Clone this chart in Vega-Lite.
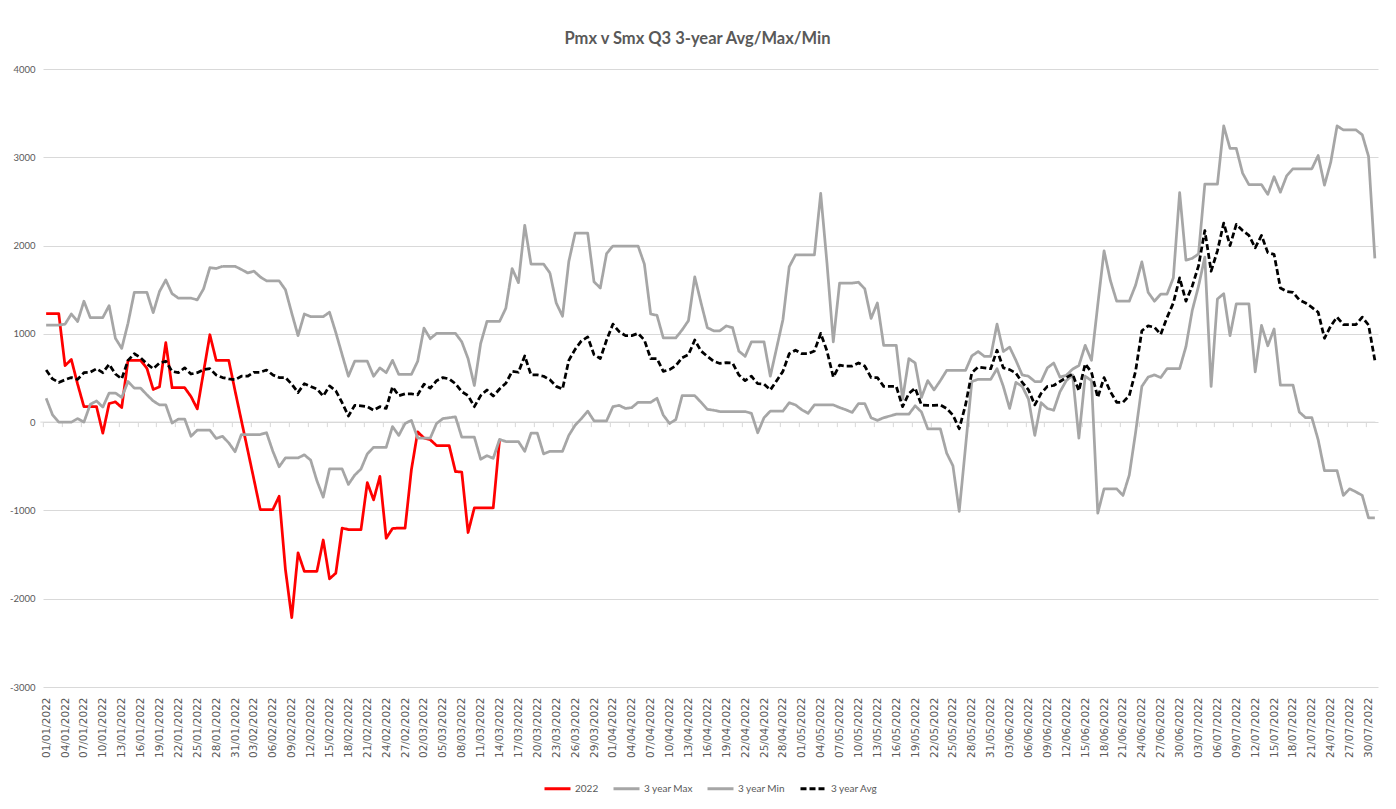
{
"$schema":"https://vega.github.io/schema/vega-lite/v6.json",
"width":1335,"height":618,
"autosize":{"type":"none"},
"padding":{"left":43,"top":69,"right":18,"bottom":122},
"background":"white",
"title":{"text":"Pmx v Smx Q3 3-year Avg/Max/Min","font":"Lato, sans-serif","fontSize":16.5,"fontWeight":"bold","color":"#595959","anchor":"middle","offset":17,"dx":-13},
"data":{"values":[
{"d":"01/01/2022","2022":1230,"3 year Max":1100,"3 year Min":270,"3 year Avg":590},
{"d":"02/01/2022","2022":1230,"3 year Max":1100,"3 year Min":85,"3 year Avg":490},
{"d":"03/01/2022","2022":1230,"3 year Max":1100,"3 year Min":0,"3 year Avg":450},
{"d":"04/01/2022","2022":640,"3 year Max":1110,"3 year Min":0,"3 year Avg":480},
{"d":"05/01/2022","2022":710,"3 year Max":1225,"3 year Min":0,"3 year Avg":505},
{"d":"06/01/2022","2022":430,"3 year Max":1140,"3 year Min":40,"3 year Avg":485},
{"d":"07/01/2022","2022":175,"3 year Max":1370,"3 year Min":0,"3 year Avg":560},
{"d":"08/01/2022","2022":175,"3 year Max":1185,"3 year Min":200,"3 year Avg":565},
{"d":"09/01/2022","2022":175,"3 year Max":1185,"3 year Min":240,"3 year Avg":605},
{"d":"10/01/2022","2022":-125,"3 year Max":1185,"3 year Min":170,"3 year Avg":560},
{"d":"11/01/2022","2022":210,"3 year Max":1320,"3 year Min":330,"3 year Avg":655},
{"d":"12/01/2022","2022":230,"3 year Max":950,"3 year Min":330,"3 year Avg":545},
{"d":"13/01/2022","2022":165,"3 year Max":835,"3 year Min":280,"3 year Avg":490},
{"d":"14/01/2022","2022":700,"3 year Max":1120,"3 year Min":460,"3 year Avg":700},
{"d":"15/01/2022","2022":700,"3 year Max":1470,"3 year Min":385,"3 year Avg":775},
{"d":"16/01/2022","2022":700,"3 year Max":1470,"3 year Min":385,"3 year Avg":730},
{"d":"17/01/2022","2022":610,"3 year Max":1470,"3 year Min":310,"3 year Avg":660},
{"d":"18/01/2022","2022":370,"3 year Max":1240,"3 year Min":240,"3 year Avg":605},
{"d":"19/01/2022","2022":400,"3 year Max":1480,"3 year Min":195,"3 year Avg":670},
{"d":"20/01/2022","2022":900,"3 year Max":1610,"3 year Min":195,"3 year Avg":690},
{"d":"21/01/2022","2022":390,"3 year Max":1455,"3 year Min":-10,"3 year Avg":575},
{"d":"22/01/2022","2022":390,"3 year Max":1405,"3 year Min":35,"3 year Avg":560},
{"d":"23/01/2022","2022":390,"3 year Max":1405,"3 year Min":35,"3 year Avg":615},
{"d":"24/01/2022","2022":290,"3 year Max":1405,"3 year Min":-160,"3 year Avg":545},
{"d":"25/01/2022","2022":150,"3 year Max":1385,"3 year Min":-90,"3 year Avg":560},
{"d":"26/01/2022","2022":570,"3 year Max":1510,"3 year Min":-90,"3 year Avg":595},
{"d":"27/01/2022","2022":990,"3 year Max":1750,"3 year Min":-90,"3 year Avg":605},
{"d":"28/01/2022","2022":700,"3 year Max":1740,"3 year Min":-185,"3 year Avg":535},
{"d":"29/01/2022","2022":700,"3 year Max":1765,"3 year Min":-160,"3 year Avg":505},
{"d":"30/01/2022","2022":700,"3 year Max":1765,"3 year Min":-235,"3 year Avg":490},
{"d":"31/01/2022","2022":355,"3 year Max":1765,"3 year Min":-335,"3 year Avg":480},
{"d":"01/02/2022","2022":20,"3 year Max":1730,"3 year Min":-140,"3 year Avg":520},
{"d":"02/02/2022","2022":-315,"3 year Max":1690,"3 year Min":-140,"3 year Avg":520},
{"d":"03/02/2022","2022":-650,"3 year Max":1710,"3 year Min":-140,"3 year Avg":565},
{"d":"04/02/2022","2022":-990,"3 year Max":1645,"3 year Min":-140,"3 year Avg":565},
{"d":"05/02/2022","2022":-990,"3 year Max":1600,"3 year Min":-120,"3 year Avg":590},
{"d":"06/02/2022","2022":-990,"3 year Max":1600,"3 year Min":-330,"3 year Avg":535},
{"d":"07/02/2022","2022":-840,"3 year Max":1600,"3 year Min":-505,"3 year Avg":505},
{"d":"08/02/2022","2022":-1670,"3 year Max":1500,"3 year Min":-405,"3 year Avg":505},
{"d":"09/02/2022","2022":-2215,"3 year Max":1235,"3 year Min":-405,"3 year Avg":430},
{"d":"10/02/2022","2022":-1480,"3 year Max":980,"3 year Min":-405,"3 year Avg":335},
{"d":"11/02/2022","2022":-1690,"3 year Max":1225,"3 year Min":-370,"3 year Avg":435},
{"d":"12/02/2022","2022":-1690,"3 year Max":1195,"3 year Min":-430,"3 year Avg":405},
{"d":"13/02/2022","2022":-1690,"3 year Max":1195,"3 year Min":-665,"3 year Avg":375},
{"d":"14/02/2022","2022":-1335,"3 year Max":1195,"3 year Min":-850,"3 year Avg":295},
{"d":"15/02/2022","2022":-1775,"3 year Max":1245,"3 year Min":-530,"3 year Avg":410},
{"d":"16/02/2022","2022":-1710,"3 year Max":1015,"3 year Min":-530,"3 year Avg":355},
{"d":"17/02/2022","2022":-1200,"3 year Max":765,"3 year Min":-530,"3 year Avg":220},
{"d":"18/02/2022","2022":-1217,"3 year Max":520,"3 year Min":-705,"3 year Avg":70},
{"d":"19/02/2022","2022":-1217,"3 year Max":690,"3 year Min":-600,"3 year Avg":190},
{"d":"20/02/2022","2022":-1217,"3 year Max":690,"3 year Min":-530,"3 year Avg":185},
{"d":"21/02/2022","2022":-685,"3 year Max":690,"3 year Min":-360,"3 year Avg":175},
{"d":"22/02/2022","2022":-880,"3 year Max":520,"3 year Min":-285,"3 year Avg":135},
{"d":"23/02/2022","2022":-615,"3 year Max":615,"3 year Min":-285,"3 year Avg":175},
{"d":"24/02/2022","2022":-1315,"3 year Max":560,"3 year Min":-285,"3 year Avg":155},
{"d":"25/02/2022","2022":-1205,"3 year Max":700,"3 year Min":-50,"3 year Avg":400},
{"d":"26/02/2022","2022":-1200,"3 year Max":540,"3 year Min":-150,"3 year Avg":300},
{"d":"27/02/2022","2022":-1200,"3 year Max":540,"3 year Min":-15,"3 year Avg":320},
{"d":"28/02/2022","2022":-540,"3 year Max":540,"3 year Min":20,"3 year Avg":320},
{"d":"01/03/2022","2022":-110,"3 year Max":690,"3 year Min":-180,"3 year Avg":310},
{"d":"02/03/2022","2022":-180,"3 year Max":1065,"3 year Min":-180,"3 year Avg":430},
{"d":"03/03/2022","2022":-200,"3 year Max":945,"3 year Min":-180,"3 year Avg":385},
{"d":"04/03/2022","2022":-265,"3 year Max":1005,"3 year Min":-15,"3 year Avg":470},
{"d":"05/03/2022","2022":-265,"3 year Max":1005,"3 year Min":40,"3 year Avg":505},
{"d":"06/03/2022","2022":-265,"3 year Max":1005,"3 year Min":50,"3 year Avg":490},
{"d":"07/03/2022","2022":-560,"3 year Max":1005,"3 year Min":60,"3 year Avg":435},
{"d":"08/03/2022","2022":-565,"3 year Max":910,"3 year Min":-170,"3 year Avg":345},
{"d":"09/03/2022","2022":-1250,"3 year Max":720,"3 year Min":-170,"3 year Avg":300},
{"d":"10/03/2022","2022":-970,"3 year Max":415,"3 year Min":-170,"3 year Avg":175},
{"d":"11/03/2022","2022":-970,"3 year Max":890,"3 year Min":-420,"3 year Avg":300},
{"d":"12/03/2022","2022":-970,"3 year Max":1140,"3 year Min":-380,"3 year Avg":365},
{"d":"13/03/2022","2022":-970,"3 year Max":1140,"3 year Min":-410,"3 year Avg":295},
{"d":"14/03/2022","2022":-200,"3 year Max":1140,"3 year Min":-195,"3 year Avg":375},
{"d":"15/03/2022","3 year Max":1290,"3 year Min":-220,"3 year Avg":440},
{"d":"16/03/2022","3 year Max":1740,"3 year Min":-220,"3 year Avg":575},
{"d":"17/03/2022","3 year Max":1580,"3 year Min":-220,"3 year Avg":565},
{"d":"18/03/2022","3 year Max":2230,"3 year Min":-330,"3 year Avg":750},
{"d":"19/03/2022","3 year Max":1790,"3 year Min":-125,"3 year Avg":535},
{"d":"20/03/2022","3 year Max":1790,"3 year Min":-125,"3 year Avg":535},
{"d":"21/03/2022","3 year Max":1790,"3 year Min":-360,"3 year Avg":520},
{"d":"22/03/2022","3 year Max":1690,"3 year Min":-330,"3 year Avg":480},
{"d":"23/03/2022","3 year Max":1350,"3 year Min":-330,"3 year Avg":405},
{"d":"24/03/2022","3 year Max":1200,"3 year Min":-330,"3 year Avg":375},
{"d":"25/03/2022","3 year Max":1820,"3 year Min":-150,"3 year Avg":700},
{"d":"26/03/2022","3 year Max":2140,"3 year Min":-35,"3 year Avg":825},
{"d":"27/03/2022","3 year Max":2140,"3 year Min":40,"3 year Avg":920},
{"d":"28/03/2022","3 year Max":2140,"3 year Min":125,"3 year Avg":965},
{"d":"29/03/2022","3 year Max":1590,"3 year Min":15,"3 year Avg":765},
{"d":"30/03/2022","3 year Max":1520,"3 year Min":15,"3 year Avg":720},
{"d":"31/03/2022","3 year Max":1910,"3 year Min":15,"3 year Avg":930},
{"d":"01/04/2022","3 year Max":1995,"3 year Min":175,"3 year Avg":1110},
{"d":"02/04/2022","3 year Max":1995,"3 year Min":190,"3 year Avg":1025},
{"d":"03/04/2022","3 year Max":1995,"3 year Min":155,"3 year Avg":980},
{"d":"04/04/2022","3 year Max":1995,"3 year Min":165,"3 year Avg":980},
{"d":"05/04/2022","3 year Max":1995,"3 year Min":225,"3 year Avg":1005},
{"d":"06/04/2022","3 year Max":1790,"3 year Min":225,"3 year Avg":930},
{"d":"07/04/2022","3 year Max":1225,"3 year Min":225,"3 year Avg":720},
{"d":"08/04/2022","3 year Max":1210,"3 year Min":270,"3 year Avg":720},
{"d":"09/04/2022","3 year Max":955,"3 year Min":80,"3 year Avg":575},
{"d":"10/04/2022","3 year Max":955,"3 year Min":-15,"3 year Avg":595},
{"d":"11/04/2022","3 year Max":955,"3 year Min":30,"3 year Avg":640},
{"d":"12/04/2022","3 year Max":1045,"3 year Min":300,"3 year Avg":730},
{"d":"13/04/2022","3 year Max":1150,"3 year Min":300,"3 year Avg":765},
{"d":"14/04/2022","3 year Max":1645,"3 year Min":300,"3 year Avg":930},
{"d":"15/04/2022","3 year Max":1350,"3 year Min":225,"3 year Avg":805},
{"d":"16/04/2022","3 year Max":1070,"3 year Min":145,"3 year Avg":745},
{"d":"17/04/2022","3 year Max":1035,"3 year Min":135,"3 year Avg":690},
{"d":"18/04/2022","3 year Max":1035,"3 year Min":120,"3 year Avg":665},
{"d":"19/04/2022","3 year Max":1090,"3 year Min":120,"3 year Avg":675},
{"d":"20/04/2022","3 year Max":1070,"3 year Min":120,"3 year Avg":670},
{"d":"21/04/2022","3 year Max":805,"3 year Min":120,"3 year Avg":535},
{"d":"22/04/2022","3 year Max":745,"3 year Min":120,"3 year Avg":470},
{"d":"23/04/2022","3 year Max":910,"3 year Min":100,"3 year Avg":520},
{"d":"24/04/2022","3 year Max":910,"3 year Min":-120,"3 year Avg":435},
{"d":"25/04/2022","3 year Max":910,"3 year Min":50,"3 year Avg":430},
{"d":"26/04/2022","3 year Max":520,"3 year Min":125,"3 year Avg":365},
{"d":"27/04/2022","3 year Max":840,"3 year Min":125,"3 year Avg":470},
{"d":"28/04/2022","3 year Max":1160,"3 year Min":125,"3 year Avg":575},
{"d":"29/04/2022","3 year Max":1760,"3 year Min":220,"3 year Avg":775},
{"d":"30/04/2022","3 year Max":1895,"3 year Min":195,"3 year Avg":815},
{"d":"01/05/2022","3 year Max":1895,"3 year Min":140,"3 year Avg":775},
{"d":"02/05/2022","3 year Max":1895,"3 year Min":100,"3 year Avg":775},
{"d":"03/05/2022","3 year Max":1895,"3 year Min":195,"3 year Avg":805},
{"d":"04/05/2022","3 year Max":2590,"3 year Min":195,"3 year Avg":1005},
{"d":"05/05/2022","3 year Max":1800,"3 year Min":195,"3 year Avg":805},
{"d":"06/05/2022","3 year Max":910,"3 year Min":195,"3 year Avg":510},
{"d":"07/05/2022","3 year Max":1575,"3 year Min":165,"3 year Avg":645},
{"d":"08/05/2022","3 year Max":1575,"3 year Min":140,"3 year Avg":635},
{"d":"09/05/2022","3 year Max":1575,"3 year Min":110,"3 year Avg":635},
{"d":"10/05/2022","3 year Max":1585,"3 year Min":210,"3 year Avg":670},
{"d":"11/05/2022","3 year Max":1510,"3 year Min":210,"3 year Avg":635},
{"d":"12/05/2022","3 year Max":1175,"3 year Min":50,"3 year Avg":505},
{"d":"13/05/2022","3 year Max":1350,"3 year Min":20,"3 year Avg":505},
{"d":"14/05/2022","3 year Max":870,"3 year Min":50,"3 year Avg":405},
{"d":"15/05/2022","3 year Max":870,"3 year Min":70,"3 year Avg":405},
{"d":"16/05/2022","3 year Max":870,"3 year Min":90,"3 year Avg":405},
{"d":"17/05/2022","3 year Max":260,"3 year Min":90,"3 year Avg":175},
{"d":"18/05/2022","3 year Max":720,"3 year Min":90,"3 year Avg":325},
{"d":"19/05/2022","3 year Max":670,"3 year Min":185,"3 year Avg":385},
{"d":"20/05/2022","3 year Max":280,"3 year Min":115,"3 year Avg":195},
{"d":"21/05/2022","3 year Max":470,"3 year Min":-75,"3 year Avg":190},
{"d":"22/05/2022","3 year Max":365,"3 year Min":-75,"3 year Avg":190},
{"d":"23/05/2022","3 year Max":470,"3 year Min":-75,"3 year Avg":195},
{"d":"24/05/2022","3 year Max":585,"3 year Min":-350,"3 year Avg":155},
{"d":"25/05/2022","3 year Max":585,"3 year Min":-495,"3 year Avg":80},
{"d":"26/05/2022","3 year Max":585,"3 year Min":-1010,"3 year Avg":-75},
{"d":"27/05/2022","3 year Max":585,"3 year Min":-280,"3 year Avg":195},
{"d":"28/05/2022","3 year Max":750,"3 year Min":460,"3 year Avg":560},
{"d":"29/05/2022","3 year Max":800,"3 year Min":485,"3 year Avg":625},
{"d":"30/05/2022","3 year Max":745,"3 year Min":485,"3 year Avg":615},
{"d":"31/05/2022","3 year Max":745,"3 year Min":485,"3 year Avg":605},
{"d":"01/06/2022","3 year Max":1110,"3 year Min":605,"3 year Avg":815},
{"d":"02/06/2022","3 year Max":800,"3 year Min":405,"3 year Avg":615},
{"d":"03/06/2022","3 year Max":850,"3 year Min":155,"3 year Avg":595},
{"d":"04/06/2022","3 year Max":700,"3 year Min":450,"3 year Avg":555},
{"d":"05/06/2022","3 year Max":535,"3 year Min":405,"3 year Avg":450},
{"d":"06/06/2022","3 year Max":520,"3 year Min":260,"3 year Avg":365},
{"d":"07/06/2022","3 year Max":460,"3 year Min":-150,"3 year Avg":195},
{"d":"08/06/2022","3 year Max":460,"3 year Min":220,"3 year Avg":325},
{"d":"09/06/2022","3 year Max":615,"3 year Min":155,"3 year Avg":405},
{"d":"10/06/2022","3 year Max":670,"3 year Min":135,"3 year Avg":415},
{"d":"11/06/2022","3 year Max":510,"3 year Min":345,"3 year Avg":460},
{"d":"12/06/2022","3 year Max":530,"3 year Min":470,"3 year Avg":505},
{"d":"13/06/2022","3 year Max":600,"3 year Min":535,"3 year Avg":545},
{"d":"14/06/2022","3 year Max":640,"3 year Min":-180,"3 year Avg":355},
{"d":"15/06/2022","3 year Max":870,"3 year Min":520,"3 year Avg":660},
{"d":"16/06/2022","3 year Max":700,"3 year Min":470,"3 year Avg":565},
{"d":"17/06/2022","3 year Max":1330,"3 year Min":-1030,"3 year Avg":280},
{"d":"18/06/2022","3 year Max":1940,"3 year Min":-755,"3 year Avg":505},
{"d":"19/06/2022","3 year Max":1605,"3 year Min":-755,"3 year Avg":345},
{"d":"20/06/2022","3 year Max":1370,"3 year Min":-755,"3 year Avg":225},
{"d":"21/06/2022","3 year Max":1370,"3 year Min":-830,"3 year Avg":225},
{"d":"22/06/2022","3 year Max":1370,"3 year Min":-600,"3 year Avg":300},
{"d":"23/06/2022","3 year Max":1550,"3 year Min":-120,"3 year Avg":575},
{"d":"24/06/2022","3 year Max":1815,"3 year Min":405,"3 year Avg":1035},
{"d":"25/06/2022","3 year Max":1470,"3 year Min":510,"3 year Avg":1090},
{"d":"26/06/2022","3 year Max":1370,"3 year Min":535,"3 year Avg":1075},
{"d":"27/06/2022","3 year Max":1450,"3 year Min":505,"3 year Avg":995},
{"d":"28/06/2022","3 year Max":1450,"3 year Min":605,"3 year Avg":1185},
{"d":"29/06/2022","3 year Max":1635,"3 year Min":605,"3 year Avg":1350},
{"d":"30/06/2022","3 year Max":2600,"3 year Min":605,"3 year Avg":1635},
{"d":"01/07/2022","3 year Max":1835,"3 year Min":855,"3 year Avg":1370},
{"d":"02/07/2022","3 year Max":1855,"3 year Min":1265,"3 year Avg":1540},
{"d":"03/07/2022","3 year Max":1905,"3 year Min":1540,"3 year Avg":1770},
{"d":"04/07/2022","3 year Max":2695,"3 year Min":1870,"3 year Avg":2170},
{"d":"05/07/2022","3 year Max":2695,"3 year Min":405,"3 year Avg":1710},
{"d":"06/07/2022","3 year Max":2695,"3 year Min":1395,"3 year Avg":1940},
{"d":"07/07/2022","3 year Max":3355,"3 year Min":1455,"3 year Avg":2255},
{"d":"08/07/2022","3 year Max":3100,"3 year Min":980,"3 year Avg":2000},
{"d":"09/07/2022","3 year Max":3100,"3 year Min":1340,"3 year Avg":2240},
{"d":"10/07/2022","3 year Max":2820,"3 year Min":1340,"3 year Avg":2170},
{"d":"11/07/2022","3 year Max":2690,"3 year Min":1340,"3 year Avg":2115},
{"d":"12/07/2022","3 year Max":2690,"3 year Min":570,"3 year Avg":1975},
{"d":"13/07/2022","3 year Max":2690,"3 year Min":1095,"3 year Avg":2115},
{"d":"14/07/2022","3 year Max":2580,"3 year Min":865,"3 year Avg":1920},
{"d":"15/07/2022","3 year Max":2780,"3 year Min":1055,"3 year Avg":1900},
{"d":"16/07/2022","3 year Max":2605,"3 year Min":420,"3 year Avg":1520},
{"d":"17/07/2022","3 year Max":2790,"3 year Min":420,"3 year Avg":1480},
{"d":"18/07/2022","3 year Max":2870,"3 year Min":420,"3 year Avg":1470},
{"d":"19/07/2022","3 year Max":2870,"3 year Min":115,"3 year Avg":1385},
{"d":"20/07/2022","3 year Max":2870,"3 year Min":50,"3 year Avg":1350},
{"d":"21/07/2022","3 year Max":2870,"3 year Min":50,"3 year Avg":1300},
{"d":"22/07/2022","3 year Max":3020,"3 year Min":-200,"3 year Avg":1245},
{"d":"23/07/2022","3 year Max":2685,"3 year Min":-550,"3 year Avg":950},
{"d":"24/07/2022","3 year Max":2945,"3 year Min":-550,"3 year Avg":1090},
{"d":"25/07/2022","3 year Max":3355,"3 year Min":-550,"3 year Avg":1190},
{"d":"26/07/2022","3 year Max":3310,"3 year Min":-830,"3 year Avg":1105},
{"d":"27/07/2022","3 year Max":3310,"3 year Min":-755,"3 year Avg":1105},
{"d":"28/07/2022","3 year Max":3310,"3 year Min":-790,"3 year Avg":1105},
{"d":"29/07/2022","3 year Max":3255,"3 year Min":-830,"3 year Avg":1190},
{"d":"30/07/2022","3 year Max":3010,"3 year Min":-1085,"3 year Avg":1100},
{"d":"31/07/2022","3 year Max":1855,"3 year Min":-1085,"3 year Avg":700}
]},
"transform":[
{"fold":["2022","3 year Max","3 year Min","3 year Avg"],"as":["series","value"]},
{"filter":"isValid(datum.value)"}
],
"layer":[
{"mark":{"type":"line","strokeWidth":2.75,"strokeJoin":"round","strokeCap":"butt"},
"encoding":{
"x":{"field":"d","type":"ordinal","sort":null,"scale":{"type":"point","padding":0.5},
"axis":{"title":null,"labelAngle":-90,"labelFont":"DejaVu Sans","labelFontSize":10.5,"labelColor":"#595959","domain":false,"ticks":false,"grid":false,"labelPadding":10,
"values":["01/01/2022","04/01/2022","07/01/2022","10/01/2022","13/01/2022","16/01/2022","19/01/2022","22/01/2022","25/01/2022","28/01/2022","31/01/2022","03/02/2022","06/02/2022","09/02/2022","12/02/2022","15/02/2022","18/02/2022","21/02/2022","24/02/2022","27/02/2022","02/03/2022","05/03/2022","08/03/2022","11/03/2022","14/03/2022","17/03/2022","20/03/2022","23/03/2022","26/03/2022","29/03/2022","01/04/2022","04/04/2022","07/04/2022","10/04/2022","13/04/2022","16/04/2022","19/04/2022","22/04/2022","25/04/2022","28/04/2022","01/05/2022","04/05/2022","07/05/2022","10/05/2022","13/05/2022","16/05/2022","19/05/2022","22/05/2022","25/05/2022","28/05/2022","31/05/2022","03/06/2022","06/06/2022","09/06/2022","12/06/2022","15/06/2022","18/06/2022","21/06/2022","24/06/2022","27/06/2022","30/06/2022","03/07/2022","06/07/2022","09/07/2022","12/07/2022","15/07/2022","18/07/2022","21/07/2022","24/07/2022","27/07/2022","30/07/2022"]}},
"y":{"field":"value","type":"quantitative","scale":{"domain":[-3000,4000],"nice":false,"zero":false},
"axis":{"title":null,"values":[-3000,-2000,-1000,0,1000,2000,3000,4000],"labelExpr":"'' + datum.value","domain":false,"ticks":false,"labelPadding":8,"gridColor":"#d9d9d9","gridWidth":1,"labelFont":"Lato, sans-serif","labelFontSize":9.5,"labelColor":"#595959"}},
"color":{"field":"series","type":"nominal","scale":{"domain":["2022","3 year Max","3 year Min","3 year Avg"],"range":["#ff0000","#a6a6a6","#a6a6a6","#000000"]},
"legend":{"title":null,"orient":"bottom","direction":"horizontal","symbolType":"stroke","symbolSize":676,"symbolStrokeWidth":3,"labelFont":"Lato, sans-serif","labelFontSize":10,"labelColor":"#595959","columnPadding":8,"labelOffset":3,"offset":16}},
"strokeDash":{"field":"series","type":"nominal","scale":{"domain":["2022","3 year Max","3 year Min","3 year Avg"],"range":[[1,0],[1,0],[1,0],[6,3]]},
"legend":{"title":null,"orient":"bottom","direction":"horizontal","symbolType":"stroke","symbolSize":676,"symbolStrokeWidth":3,"labelFont":"Lato, sans-serif","labelFontSize":10,"labelColor":"#595959","columnPadding":8,"labelOffset":3,"offset":16}}
}},
{"mark":{"type":"rule","opacity":0},
"encoding":{
"x":{"field":"d","type":"ordinal","sort":null,"scale":{"type":"point","padding":0.5},
"axis":{"title":null,"orient":"bottom","offset":-262.25,"translate":-2.65,"labels":false,"domain":true,"domainColor":"#d9d9d9","domainWidth":1,"ticks":true,"tickColor":"#d9d9d9","tickWidth":1,"tickSize":5,"grid":false,
"values":["01/01/2022","04/01/2022","07/01/2022","10/01/2022","13/01/2022","16/01/2022","19/01/2022","22/01/2022","25/01/2022","28/01/2022","31/01/2022","03/02/2022","06/02/2022","09/02/2022","12/02/2022","15/02/2022","18/02/2022","21/02/2022","24/02/2022","27/02/2022","02/03/2022","05/03/2022","08/03/2022","11/03/2022","14/03/2022","17/03/2022","20/03/2022","23/03/2022","26/03/2022","29/03/2022","01/04/2022","04/04/2022","07/04/2022","10/04/2022","13/04/2022","16/04/2022","19/04/2022","22/04/2022","25/04/2022","28/04/2022","01/05/2022","04/05/2022","07/05/2022","10/05/2022","13/05/2022","16/05/2022","19/05/2022","22/05/2022","25/05/2022","28/05/2022","31/05/2022","03/06/2022","06/06/2022","09/06/2022","12/06/2022","15/06/2022","18/06/2022","21/06/2022","24/06/2022","27/06/2022","30/06/2022","03/07/2022","06/07/2022","09/07/2022","12/07/2022","15/07/2022","18/07/2022","21/07/2022","24/07/2022","27/07/2022","30/07/2022"]}}
}}
],
"resolve":{"axis":{"x":"independent"}},
"config":{"view":{"stroke":null},"legend":{"layout":{"bottom":{"anchor":"middle"}}}}
}
